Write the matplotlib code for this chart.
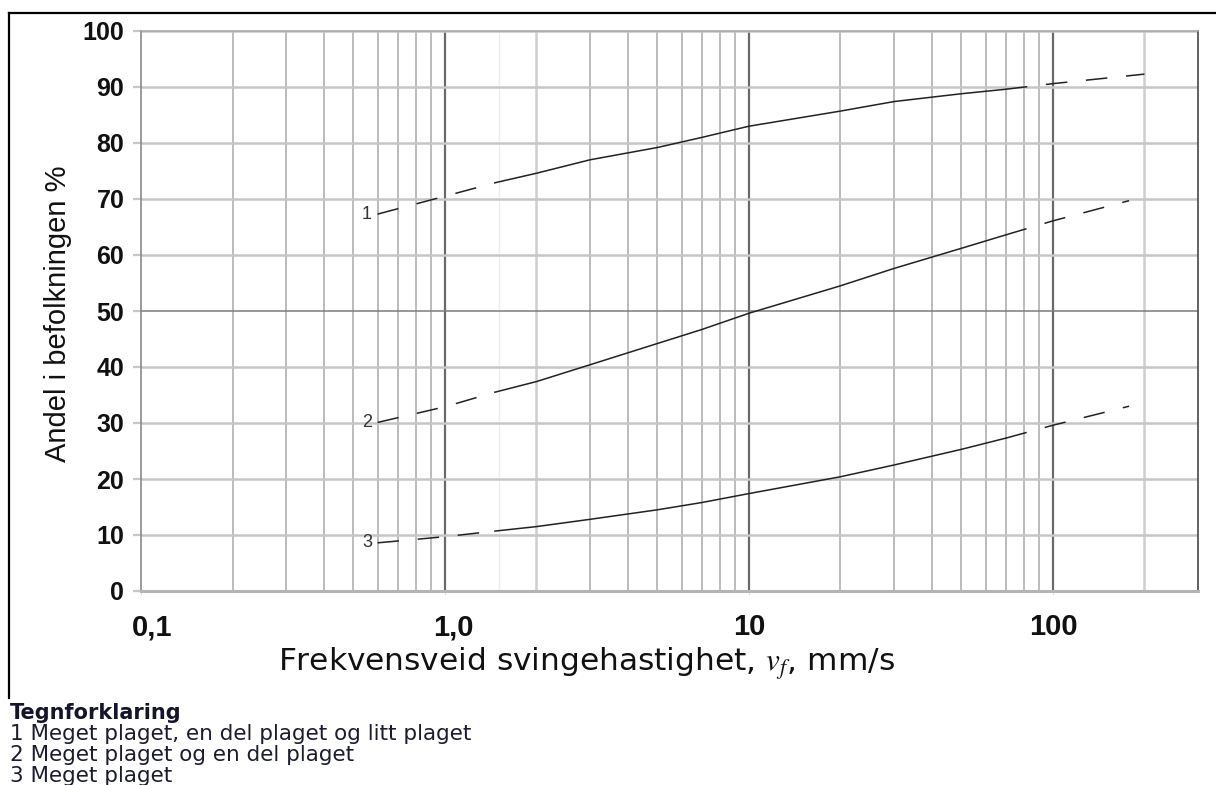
import numpy as np
import matplotlib
matplotlib.use("Agg")
import matplotlib.pyplot as plt
from matplotlib.lines import Line2D
from matplotlib.transforms import ScaledTranslation

plt.rcParams['font.family'] = ['Liberation Sans', 'DejaVu Sans']
plt.rcParams['mathtext.fontset'] = 'stix'
plt.rcParams['lines.scale_dashes'] = False

# curve readings: vibration velocity (mm/s) vs. share of population (%)
x_1 = [0.6, 1.0, 1.46, 2, 3, 5, 7, 10, 20, 30, 50, 70, 100, 200]
y_1 = [67.3, 70.5, 72.9, 74.6, 77.0, 79.2, 81.0, 83.0, 85.7, 87.4, 88.8, 89.6, 90.6, 92.3]

x_2 = [0.6, 1.0, 1.46, 2, 3, 5, 7, 10, 20, 30, 50, 70, 100, 178]
y_2 = [30.1, 32.9, 35.5, 37.4, 40.4, 44.2, 46.7, 49.6, 54.5, 57.6, 61.2, 63.6, 66.1, 69.7]

x_3 = [0.6, 1.0, 1.46, 2, 3, 5, 7, 10, 20, 30, 50, 70, 100, 178]
y_3 = [8.6, 9.7, 10.7, 11.5, 12.8, 14.5, 15.8, 17.4, 20.4, 22.5, 25.3, 27.3, 29.6, 33.0]

curve_names = ["1", "2", "3"]
solid_from, solid_to = 1.46, 70   # measured range; outside it the curves are dashed

x_ticks = [0.1, 1, 10, 100]
x_ticklabels = ["0,1", "1,0", "10", "100"]
y_ticks = list(range(0, 101, 10))

legend_title = "Tegnforklaring"
legend_lines = ["1 Meget plaget, en del plaget og litt plaget",
                "2 Meget plaget og en del plaget",
                "3 Meget plaget"]

fig = plt.figure(figsize=(12.16, 7.85), dpi=100)
ax = fig.add_axes([141 / 1216, 1 - 591 / 785, 1057 / 1216, 560 / 785])
ax.set_xscale('log')
ax.set_xlim(0.1, 300)
ax.set_ylim(0, 100)

# grid drawn by hand so decades and the 50 % line can be heavier
for dec in [0.1, 1, 10, 100]:
    for m in range(2, 10):
        v = dec * m
        if v >= 300:
            continue
        light = m == 2 and dec in (1, 100)
        ax.axvline(v, color='#cfcfcf' if light else '#a9a9a9',
                   lw=1.8 if light else 1.1, zorder=1)
for v in [1, 10, 100]:
    ax.axvline(v, color='#6a6a6a', lw=1.6, zorder=1)
ax.axvline(1.5, color='#e6eef2', lw=1.0, zorder=1)
for v in y_ticks[1:]:
    if v == 50:
        ax.axhline(v, color='#7c7c7c', lw=1.1, zorder=1)
    else:
        ax.axhline(v, color='#c6c6c6', lw=1.8, zorder=1)

for name, xs, ys in zip(curve_names, [x_1, x_2, x_3], [y_1, y_2, y_3]):
    xs = np.array(xs)
    ys = np.array(ys)
    lo = xs <= solid_from
    mid = (xs >= solid_from) & (xs <= solid_to)
    hi = xs >= solid_to
    style = dict(color='#222222', lw=1.1, zorder=3)
    ax.plot(xs[lo], ys[lo], dashes=(15.5, 13.5), **style)
    ax.plot(xs[mid], ys[mid], **style)
    ax.plot(xs[hi], ys[hi], dashes=(15.5, 13.5), dash_capstyle='butt', **style)
    ax.annotate(name, (xs[0], ys[0]), xytext=(-4, 0), textcoords='offset points',
                ha='right', va='center', fontsize=13, color='#333333')

ax.set_xticks(x_ticks)
ax.set_xticklabels(x_ticklabels, fontsize=21, fontweight='bold')
ax.xaxis.set_minor_locator(matplotlib.ticker.NullLocator())
ax.set_yticks(y_ticks)
ax.set_yticklabels([str(v) for v in y_ticks], fontsize=18, fontweight='bold')
ax.tick_params(axis='x', length=3, color='#e0e0e0', pad=13, labelcolor='#111111')
ax.tick_params(axis='y', length=6, width=1.6, color='#c6c6c6', pad=6, labelcolor='#111111')

# the comma labels sit a little right of their ticks
for lab, dx in zip(ax.get_xticklabels()[:2], [11, 8]):
    lab.set_transform(lab.get_transform() + ScaledTranslation(dx / 100, 0, fig.dpi_scale_trans))

ax.spines['left'].set_color('#8a8a8a')
ax.spines['left'].set_linewidth(1.2)
ax.spines['bottom'].set_color('#b4b4b4')
ax.spines['bottom'].set_linewidth(2.2)
ax.spines['top'].set_color('#a8a8a8')
ax.spines['top'].set_linewidth(1.2)
ax.spines['right'].set_color('#555555')
ax.spines['right'].set_linewidth(1.3)

fig.text(58 / 1216, 1 - 314 / 785, "Andel i befolkningen %", rotation=90,
         ha='center', va='center', fontsize=21, color='#111111')
fig.text(587 / 1216, 1 - 664 / 785, r"Frekvensveid svingehastighet, $v_f$, mm/s",
         ha='center', va='center', fontsize=22.5, color='#111111',
         family=['DejaVu Sans'])

# legend block under the chart
fig.text(10 / 1216, 1 - 713 / 785, legend_title, ha='left', va='center',
         fontsize=15, fontweight='bold', color='#14142a', family=['DejaVu Sans'])
for i, line in enumerate(legend_lines):
    fig.text(10 / 1216, 1 - (734 + 21 * i) / 785, line, ha='left', va='center',
             fontsize=15.5, color='#1c1c30', family=['DejaVu Sans'])

# page frame around the figure
fig.add_artist(Line2D([9 / 1216, 9 / 1216], [1 - 12.5 / 785, 1 - 698 / 785],
                      color='black', lw=1.6))
fig.add_artist(Line2D([9 / 1216, 1.0], [1 - 12.5 / 785, 1 - 12.5 / 785],
                      color='black', lw=1.6))

fig.savefig("out.png", dpi=100)
